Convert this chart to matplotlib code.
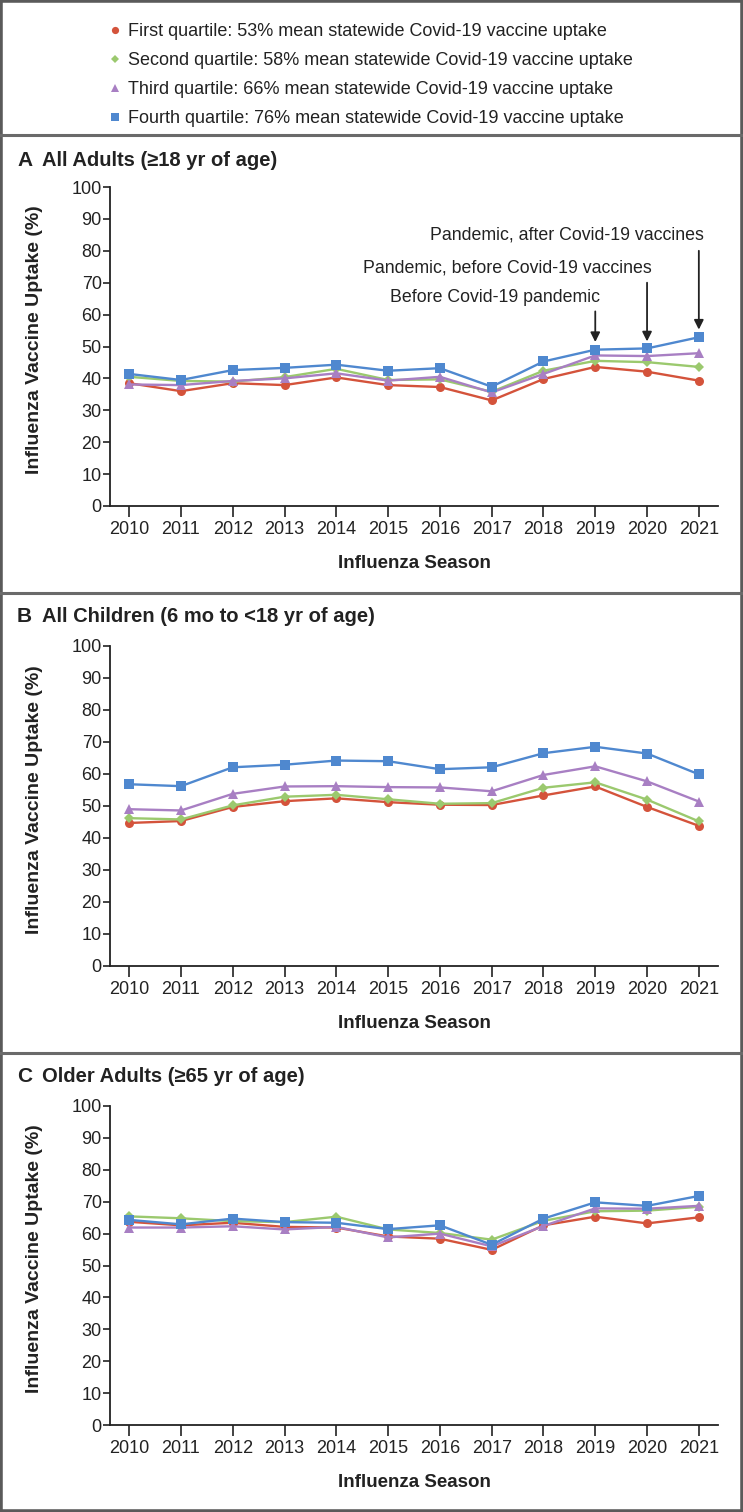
import matplotlib
matplotlib.use('Agg')
import matplotlib.pyplot as plt
from matplotlib.lines import Line2D
from matplotlib.patches import Rectangle
import numpy as np

plt.rcParams['font.family'] = ['Liberation Sans Narrow', 'DejaVu Sans Condensed', 'Liberation Sans', 'DejaVu Sans']

seasons = list(range(2010, 2022))

labels = ['First quartile: 53% mean statewide Covid-19 vaccine uptake',
          'Second quartile: 58% mean statewide Covid-19 vaccine uptake',
          'Third quartile: 66% mean statewide Covid-19 vaccine uptake',
          'Fourth quartile: 76% mean statewide Covid-19 vaccine uptake']
colors = ['#d4533b', '#9bc96e', '#a87fc3', '#4f88cf']
markers = ['o', 'D', '^', 's']
msizes = [6.5, 5.0, 7.0, 6.5]

# A: all adults
adults_q1 = [38.5, 36.0, 38.5, 37.9, 40.3, 37.9, 37.3, 33.1, 39.8, 43.6, 42.1, 39.3]
adults_q2 = [40.5, 39.2, 39.0, 40.4, 43.0, 39.5, 39.7, 35.8, 42.4, 45.5, 45.1, 43.6]
adults_q3 = [38.1, 37.9, 39.2, 40.0, 41.6, 39.3, 40.5, 35.6, 41.4, 47.2, 47.0, 47.9]
adults_q4 = [41.4, 39.5, 42.6, 43.3, 44.3, 42.4, 43.2, 37.4, 45.3, 49.0, 49.4, 52.9]

# B: children
child_q1 = [44.7, 45.3, 49.7, 51.5, 52.4, 51.2, 50.4, 50.3, 53.3, 56.1, 49.7, 43.8]
child_q2 = [46.2, 45.8, 50.2, 52.9, 53.5, 52.1, 50.7, 50.9, 55.7, 57.4, 52.0, 45.2]
child_q3 = [49.0, 48.6, 53.8, 56.1, 56.2, 55.9, 55.8, 54.6, 59.7, 62.4, 57.7, 51.4]
child_q4 = [56.8, 56.2, 62.1, 62.9, 64.2, 64.0, 61.5, 62.1, 66.5, 68.5, 66.4, 59.9]

# C: older adults
older_q1 = [63.7, 62.6, 63.4, 62.1, 61.9, 59.1, 58.4, 54.9, 62.6, 65.3, 63.2, 65.1]
older_q2 = [65.4, 64.8, 63.9, 63.6, 65.3, 61.3, 60.2, 58.1, 64.0, 67.0, 67.2, 68.4]
older_q3 = [61.9, 61.9, 62.3, 61.3, 62.1, 58.8, 60.0, 56.0, 62.4, 67.9, 67.8, 68.7]
older_q4 = [64.3, 62.9, 64.7, 63.6, 63.4, 61.4, 62.6, 56.5, 64.7, 69.8, 68.7, 71.8]

panels = [('A', 'All Adults (\u226518 yr of age)', [adults_q1, adults_q2, adults_q3, adults_q4]),
          ('B', 'All Children (6 mo to <18 yr of age)', [child_q1, child_q2, child_q3, child_q4]),
          ('C', 'Older Adults (\u226565 yr of age)', [older_q1, older_q2, older_q3, older_q4])]

arrow_text = ['Before Covid-19 pandemic',
              'Pandemic, before Covid-19 vaccines',
              'Pandemic, after Covid-19 vaccines']
arrow_season = [2019, 2020, 2021]

W, H = 743, 1512
fig = plt.figure(figsize=(W / 100, H / 100), dpi=100)

# pixel rows of y=100 and y=0 for each panel
rows = [(187, 506), (646, 966), (1106, 1425)]
title_y = [160, 617, 1077]
left_px, right_px = 110, 718

axes = []
for (letter, title, series), (top, bot), ty in zip(panels, rows, title_y):
    ax = fig.add_axes([left_px / W, (H - bot) / H, (right_px - left_px) / W, (bot - top) / H])
    for vals, c, m, ms in zip(series, colors, markers, msizes):
        ax.plot(seasons, vals, color=c, marker=m, markersize=ms, linewidth=1.7,
                markeredgewidth=0, clip_on=False, zorder=3)
    ax.set_ylim(0, 100)
    ax.set_xlim(2009.63, 2021.37)
    ax.set_xticks(seasons)
    ax.set_yticks(np.arange(0, 101, 10))
    ax.spines['top'].set_visible(False)
    ax.spines['right'].set_visible(False)
    for s in ['left', 'bottom']:
        ax.spines[s].set_linewidth(1.3)
        ax.spines[s].set_color('#222222')
    ax.tick_params(axis='y', direction='out', length=5, width=1.2, labelsize=13, pad=1, colors='#222222')
    ax.tick_params(axis='x', direction='out', length=8, width=1.2, labelsize=13, pad=3, colors='#222222')
    ax.set_xlabel('Influenza Season', fontsize=13.5, fontweight='bold', labelpad=12, color='#222222')
    ax.set_ylabel('Influenza Vaccine Uptake (%)', fontsize=14, fontweight='bold', color='#222222')
    ax.yaxis.set_label_coords(-0.11, 0.52)
    fig.text(17 / W, 1 - ty / H, letter, fontsize=15, fontweight='bold', va='center', color='#222222')
    fig.text(42 / W, 1 - ty / H, title, fontsize=14.5, fontweight='bold', va='center', color='#222222')
    axes.append(ax)

# arrows in panel A
axA = axes[0]
text_vals = [65.5, 74.6, 85.0]
start_vals = [61.0, 70.0, 80.0]
tip_vals = [51.4, 51.6, 55.3]
for t, s, tv, sv, tip in zip(arrow_text, arrow_season, text_vals, start_vals, tip_vals):
    axA.text(s + 0.1, tv, t, ha='right', va='center', fontsize=12.8, color='#222222')
    axA.annotate('', xy=(s, tip), xytext=(s, sv),
                 arrowprops=dict(arrowstyle='-|>', color='#222222', lw=1.3,
                                 mutation_scale=14, shrinkA=0, shrinkB=0))

# legend
handles = [Line2D([], [], color=c, marker=m, markersize=ms * 0.8, linestyle='none', markeredgewidth=0)
           for c, m, ms in zip(colors, markers, msizes)]
fig.legend(handles, labels, loc='upper left', bbox_to_anchor=(101 / W, 1 - 16 / H),
           frameon=False, fontsize=13, handletextpad=0.3, labelspacing=0.66,
           handlelength=0.8, borderaxespad=0, labelcolor='#222222')

# frame and separators
fig.add_artist(Rectangle((0, 0), 1, 1, transform=fig.transFigure, fill=False,
                         edgecolor='#5a5a5a', linewidth=4))
for yp in [135, 593, 1053]:
    fig.add_artist(Line2D([0, 1], [1 - yp / H, 1 - yp / H], transform=fig.transFigure,
                          color='#6a6a6a', linewidth=2.2))

fig.savefig('out.png', dpi=100)
